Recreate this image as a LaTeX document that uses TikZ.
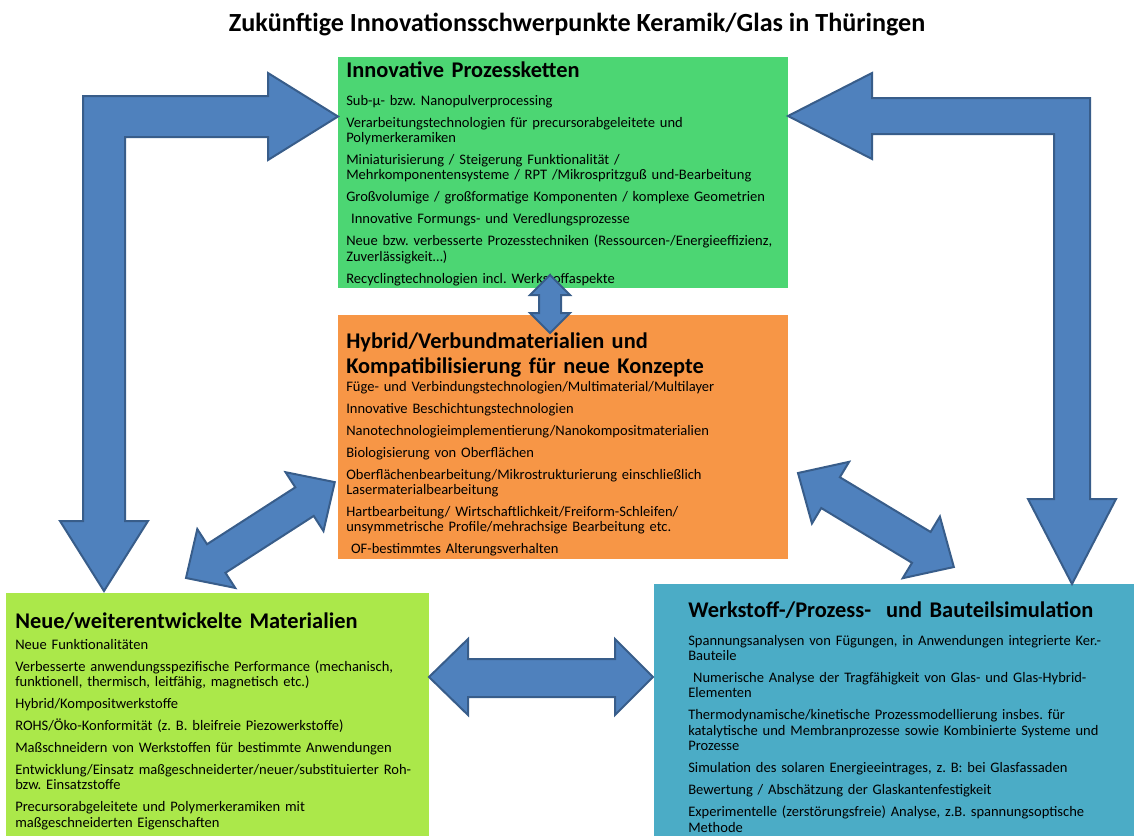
\documentclass[tikz,border=0pt]{standalone}
\usepackage{fontspec}
\setmainfont{Carlito}
\definecolor{procgreen}{HTML}{4CD673}
\definecolor{hybridorange}{HTML}{F79646}
\definecolor{matgreen}{HTML}{ABE84A}
\definecolor{simblue}{HTML}{4BACC6}
\definecolor{arrowfill}{HTML}{4F81BD}
\definecolor{arrowline}{HTML}{385D8A}
\newcommand{\nextitem}{\\[4.9pt]}
\frenchspacing
\begin{document}
\begin{tikzpicture}[x=0.75pt,y=-0.75pt,
  panel/.style={draw=none, inner sep=0, anchor=north west},
  blockarrow/.style={fill=arrowfill, draw=arrowline, line width=1.5pt, line join=miter},
  headtext/.style={anchor=base west, inner sep=0, align=left, text width=330pt,
    font=\fontsize{16.8}{18.75}\selectfont\bfseries},
  bodytext/.style={anchor=base west, inner sep=0, align=left, text width=330pt,
    font=\fontsize{10.9}{11.6}\selectfont}]
\useasboundingbox (0,0) rectangle (1134,836);

% title
\node[anchor=base, inner sep=0, font=\fontsize{19.6}{22}\selectfont\bfseries] (title) at (577,31)
  {Zukünftige Innovationsschwerpunkte Keramik/Glas in Thüringen};

% the four panels
\node[panel, fill=procgreen, minimum width=337.5pt, minimum height=173.25pt] (proc) at (338,57) {};
\node[panel, fill=hybridorange, minimum width=337.5pt, minimum height=183pt] (hybrid) at (338,315) {};
\node[panel, fill=matgreen, minimum width=317.25pt, minimum height=182.25pt] (mat) at (6,593) {};
\node[panel, fill=simblue, minimum width=360pt, minimum height=189pt] (sim) at (654,584) {};

% panel texts
\node[headtext] (prochead) at (346,77) {Innovative Prozessketten};
\node[bodytext] (procbody) at (346,105) {%
Sub-µ- bzw. Nanopulverprocessing\nextitem
Verarbeitungstechnologien für precursorabgeleitete und\\
Polymerkeramiken\nextitem
Miniaturisierung / Steigerung Funktionalität /\\
Mehrkomponentensysteme / RPT /Mikrospritzguß und-Bearbeitung\nextitem
Großvolumige / großformatige Komponenten / komplexe Geometrien\nextitem
\ Innovative Formungs- und Veredlungsprozesse\nextitem
Neue bzw. verbesserte Prozesstechniken (Ressourcen-/Energieeffizienz,\\
Zuverlässigkeit…)\nextitem
Recyclingtechnologien incl. Werkstoffaspekte};

\node[headtext] (hybridhead) at (346,348)
  {Hybrid/Verbundmaterialien und\\Kompatibilisierung für neue Konzepte};
\node[bodytext] (hybridbody) at (346,391) {%
Füge- und Verbindungstechnologien/Multimaterial/Multilayer\nextitem
Innovative Beschichtungstechnologien\nextitem
Nanotechnologieimplementierung/Nanokompositmaterialien\nextitem
Biologisierung von Oberflächen\nextitem
Oberflächenbearbeitung/Mikrostrukturierung einschließlich\\
Lasermaterialbearbeitung\nextitem
Hartbearbeitung/ Wirtschaftlichkeit/Freiform-Schleifen/\\
unsymmetrische Profile/mehrachsige Bearbeitung etc.\nextitem
\ OF-bestimmtes Alterungsverhalten};

\node[headtext] (mathead) at (15,628) {Neue/weiterentwickelte Materialien};
\node[bodytext] (matbody) at (15,649) {%
Neue Funktionalitäten\nextitem
Verbesserte anwendungsspezifische Performance (mechanisch,\\
funktionell, thermisch, leitfähig, magnetisch etc.)\nextitem
Hybrid/Kompositwerkstoffe\nextitem
ROHS/Öko-Konformität (z. B. bleifreie Piezowerkstoffe)\nextitem
Maßschneidern von Werkstoffen für bestimmte Anwendungen\nextitem
Entwicklung/Einsatz maßgeschneiderter/neuer/substituierter Roh-\\
bzw. Einsatzstoffe\nextitem
Precursorabgeleitete und Polymerkeramiken mit\\
maßgeschneiderten Eigenschaften};

\node[headtext] (simhead) at (688,617) {Werkstoff-/Prozess-\ \ und Bauteilsimulation};
\node[bodytext] (simbody) at (688,645) {%
Spannungsanalysen von Fügungen, in Anwendungen integrierte Ker.-\\
Bauteile\nextitem
\ Numerische Analyse der Tragfähigkeit von Glas- und Glas-Hybrid-\\
Elementen\nextitem
Thermodynamische/kinetische Prozessmodellierung insbes. für\\
katalytische und Membranprozesse sowie Kombinierte Systeme und\\
Prozesse\nextitem
Simulation des solaren Energieeintrages, z. B: bei Glasfassaden\nextitem
Bewertung / Abschätzung der Glaskantenfestigkeit\nextitem
Experimentelle (zerstörungsfreie) Analyse, z.B. spannungsoptische\\
Methode};

% bent arrow: materials <-> process chains
\path[blockarrow] (83,96) -- (268,96) -- (268,73) -- (338,116.5) -- (268,160) -- (268,137)
  -- (125,137) -- (125,521) -- (148,521) -- (104,591) -- (60,521) -- (83,521) -- cycle;

% bent arrow: process chains <-> simulation
\path[blockarrow] (1090,98) -- (872,98) -- (872,73) -- (788,116) -- (872,159) -- (872,134)
  -- (1054,134) -- (1054,499) -- (1028,499) -- (1072,584) -- (1116,499) -- (1090,499) -- cycle;

% process chains <-> hybrid materials
\path[blockarrow] (550,275) -- (570,295) -- (561,295) -- (561,313) -- (570,313) -- (550,333)
  -- (530,313) -- (539,313) -- (539,295) -- (530,295) -- cycle;

% materials <-> simulation
\path[blockarrow] (429,677) -- (468,639) -- (468,659) -- (615,659) -- (615,639) -- (653,677)
  -- (615,715) -- (615,697) -- (468,697) -- (468,715) -- cycle;

% materials <-> hybrid materials
\begin{scope}[shift={(186,578)}, rotate=32.8]
\path[blockarrow] (0,0) -- (36,-35) -- (36,-17) -- (141,-17) -- (141,-35) -- (177,0)
  -- (141,35) -- (141,17) -- (36,17) -- (36,35) -- cycle;
\end{scope}

% hybrid materials <-> simulation
\begin{scope}[shift={(798,473)}, rotate=-31.1]
\path[blockarrow] (0,0) -- (38,-36) -- (38,-18) -- (144,-18) -- (144,-36) -- (182,0)
  -- (144,36) -- (144,18) -- (38,18) -- (38,36) -- cycle;
\end{scope}
\end{tikzpicture}
\end{document}
